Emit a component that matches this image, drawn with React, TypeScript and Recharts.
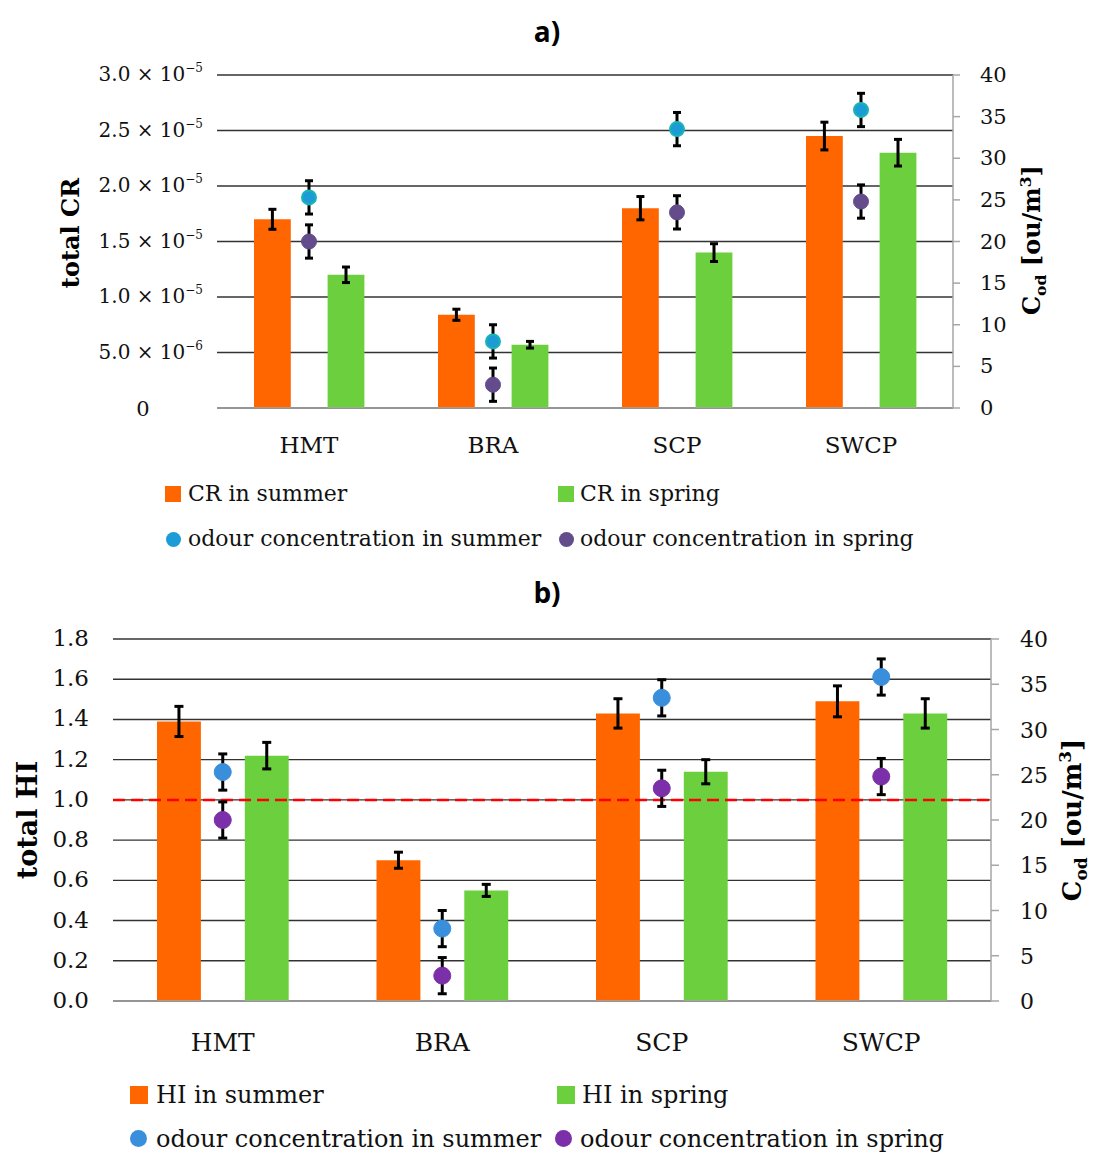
import React from 'react';
import {
  ComposedChart,
  Bar,
  Line,
  XAxis,
  YAxis,
  CartesianGrid,
  ErrorBar,
  ReferenceLine,
} from 'recharts';

// ---------- data ----------
const categories = ['HMT', 'BRA', 'SCP', 'SWCP'];

const crSummer = [1.7e-5, 8.4e-6, 1.8e-5, 2.45e-5];
const crSummerErr = [9e-7, 5e-7, 1.05e-6, 1.25e-6];
const crSpring = [1.2e-5, 5.7e-6, 1.4e-5, 2.3e-5];
const crSpringErr = [7e-7, 3e-7, 8e-7, 1.2e-6];

const hiSummer = [1.39, 0.7, 1.43, 1.49];
const hiSummerErr = [0.075, 0.04, 0.073, 0.077];
const hiSpring = [1.22, 0.55, 1.14, 1.43];
const hiSpringErr = [0.066, 0.03, 0.06, 0.073];

const odourSummer = [25.3, 8.0, 33.5, 35.8];
const odourSummerErr = [2.0, 2.0, 2.0, 2.0];
const odourSpring = [20.0, 2.8, 23.5, 24.8];
const odourSpringErr = [2.0, 2.0, 2.0, 2.0];

const crTicks = [0, 5e-6, 1e-5, 1.5e-5, 2e-5, 2.5e-5, 3e-5];
const crTickMantissas = ['0', '5.0', '1.0', '1.5', '2.0', '2.5', '3.0'];
const crTickExponents = ['', '−6', '−5', '−5', '−5', '−5', '−5'];

const hiTicks = [0, 0.2, 0.4, 0.6, 0.8, 1.0, 1.2, 1.4, 1.6, 1.8];
const hiTickLabels = ['0.0', '0.2', '0.4', '0.6', '0.8', '1.0', '1.2', '1.4', '1.6', '1.8'];

const odourTicks = [0, 5, 10, 15, 20, 25, 30, 35, 40];
const hiThreshold = 1.0;

// ---------- built tables ----------
const dataA = categories.map((name, i) => ({
  name,
  crSummer: crSummer[i],
  crSummerErr: crSummerErr[i],
  crSpring: crSpring[i],
  crSpringErr: crSpringErr[i],
  odourSummer: odourSummer[i],
  odourSummerErr: odourSummerErr[i],
  odourSpring: odourSpring[i],
  odourSpringErr: odourSpringErr[i],
}));

const dataB = categories.map((name, i) => ({
  name,
  hiSummer: hiSummer[i],
  hiSummerErr: hiSummerErr[i],
  hiSpring: hiSpring[i],
  hiSpringErr: hiSpringErr[i],
  odourSummer: odourSummer[i],
  odourSummerErr: odourSummerErr[i],
  odourSpring: odourSpring[i],
  odourSpringErr: odourSpringErr[i],
}));

// ---------- styles ----------
const SERIF = '"DejaVu Serif", "Liberation Serif", serif';
const SANS = '"Open Sans", "DejaVu Sans", sans-serif';
const ORANGE = '#FF6600';
const GREEN = '#6CCF3D';
const GRID = '#333333';
const AXIS_GRAY = '#a6a6a6';
const TEXT = '#111';

const A_COLORS = { summer: '#1C9CD6', summerStroke: '#1AB4B4', spring: '#634B8C' };
const B_COLORS = { summer: '#3A8FDD', spring: '#7B2FA8' };

const W = 1094;
// chart a geometry
const A_LEFT = 217;
const A_RIGHT_W = 141;
const A_BAND = (W - A_LEFT - A_RIGHT_W) / categories.length;
// chart b geometry
const B_LEFT = 113;
const B_RIGHT_W = 103;
const B_BAND = (W - B_LEFT - B_RIGHT_W) / categories.length;

const findIdx = (arr: number[], v: number) =>
  arr.findIndex((t) => Math.abs(t - v) < 1e-12);

// ---------- tick renderers ----------
const CRTick = (props: any) => {
  const { x, y, payload } = props;
  const i = findIdx(crTicks, payload.value);
  if (i < 0) return null;
  if (crTickExponents[i] === '') {
    return (
      <text x={x - 60} y={y} dy={8} textAnchor="middle" fontFamily={SERIF} fontSize={21} fill={TEXT}>
        {crTickMantissas[i]}
      </text>
    );
  }
  return (
    <text x={x} y={y} dy={6} textAnchor="end" fontFamily={SERIF} fontSize={20} fill={TEXT}>
      <tspan>{crTickMantissas[i] + ' × 10'}</tspan>
      <tspan dy={-9} fontSize={12}>
        {crTickExponents[i]}
      </tspan>
    </text>
  );
};

const OdourTickA = (props: any) => {
  const { x, y, payload } = props;
  return (
    <text x={x} y={y} dy={7} textAnchor="start" fontFamily={SERIF} fontSize={21} fill={TEXT}>
      {payload.value}
    </text>
  );
};

const OdourTickB = (props: any) => {
  const { x, y, payload } = props;
  return (
    <text x={x} y={y} dy={8} textAnchor="start" fontFamily={SERIF} fontSize={22} fill={TEXT}>
      {payload.value}
    </text>
  );
};

const HITick = (props: any) => {
  const { x, y, payload } = props;
  const i = findIdx(hiTicks, payload.value);
  if (i < 0) return null;
  return (
    <text x={x} y={y} dy={7} textAnchor="end" fontFamily={SERIF} fontSize={23} fill={TEXT}>
      {hiTickLabels[i]}
    </text>
  );
};

const CatTickA = (props: any) => {
  const { x, y, payload } = props;
  return (
    <text x={x} y={y + 45} textAnchor="middle" fontFamily={SERIF} fontSize={23} fill={TEXT}>
      {payload.value}
    </text>
  );
};

const CatTickB = (props: any) => {
  const { x, y, payload } = props;
  return (
    <text x={x} y={y + 50} textAnchor="middle" fontFamily={SERIF} fontSize={25} fill={TEXT}>
      {payload.value}
    </text>
  );
};

// ---------- html helpers ----------
const RotLabel = ({ cx, cy, size, children }: any) => (
  <div
    style={{
      position: 'absolute',
      left: cx,
      top: cy,
      transform: 'translate(-50%, -50%) rotate(-90deg)',
      whiteSpace: 'nowrap',
      fontFamily: SERIF,
      fontWeight: 700,
      fontSize: size,
      lineHeight: 1,
      color: '#000',
    }}
  >
    {children}
  </div>
);

const Title = ({ cx, cy, text }: any) => (
  <div
    style={{
      position: 'absolute',
      left: cx,
      top: cy,
      transform: 'translate(-50%, -50%)',
      fontFamily: SANS,
      fontWeight: 700,
      fontSize: 28,
      lineHeight: 1,
      color: '#000',
    }}
  >
    {text}
  </div>
);

const LegendItem = ({ marker, color, mx, my, msize, tx, baseline, fontSize, text }: any) => (
  <>
    <div
      style={{
        position: 'absolute',
        left: mx - msize / 2,
        top: my - msize / 2,
        width: msize,
        height: msize,
        background: color,
        borderRadius: marker === 'circle' ? '50%' : 0,
      }}
    />
    <div
      style={{
        position: 'absolute',
        left: tx,
        top: baseline - 0.846 * fontSize,
        fontFamily: SERIF,
        fontSize,
        lineHeight: `${fontSize}px`,
        whiteSpace: 'nowrap',
        color: TEXT,
      }}
    >
      {text}
    </div>
  </>
);

export default function App() {
  return (
    <div
      style={{
        position: 'absolute',
        left: 0,
        top: 0,
        width: W,
        height: 1155,
        background: '#fff',
        overflow: 'hidden',
      }}
    >
      {/* ---------------- chart a ---------------- */}
      <Title cx={547} cy={31} text="a)" />
      <div style={{ position: 'absolute', left: 0, top: 0 }}>
        <ComposedChart
          width={W}
          height={470}
          data={dataA}
          margin={{ top: 75, right: 0, left: 0, bottom: 12 }}
          barSize={A_BAND * 0.2}
          barGap={A_BAND * 0.2}
        >
          <CartesianGrid yAxisId="left" vertical={false} stroke={GRID} strokeWidth={1.4} />
          <XAxis
            dataKey="name"
            height={50}
            tickLine={false}
            tickSize={0}
            tickMargin={0}
            axisLine={{ stroke: AXIS_GRAY, strokeWidth: 1.5 }}
            tick={<CatTickA />}
            interval={0}
          />
          <YAxis
            yAxisId="left"
            width={A_LEFT}
            domain={[0, 3e-5]}
            ticks={crTicks}
            interval={0}
            axisLine={false}
            tickLine={false}
            tickSize={14}
            tickMargin={0}
            tick={<CRTick />}
          />
          <YAxis
            yAxisId="right"
            orientation="right"
            width={A_RIGHT_W}
            domain={[0, 40]}
            ticks={odourTicks}
            interval={0}
            axisLine={{ stroke: AXIS_GRAY, strokeWidth: 1.5 }}
            tickLine={{ stroke: AXIS_GRAY, strokeWidth: 1.5 }}
            tickSize={7}
            tickMargin={20}
            tick={<OdourTickA />}
          />
          <Bar yAxisId="left" dataKey="crSummer" fill={ORANGE} isAnimationActive={false}>
            <ErrorBar dataKey="crSummerErr" width={4} strokeWidth={3} stroke="#000" direction="y" />
          </Bar>
          <Bar yAxisId="left" dataKey="crSpring" fill={GREEN} isAnimationActive={false}>
            <ErrorBar dataKey="crSpringErr" width={4} strokeWidth={3} stroke="#000" direction="y" />
          </Bar>
          <Line
            yAxisId="right"
            dataKey="odourSummer"
            stroke="none"
            isAnimationActive={false}
            dot={{ r: 7, fill: A_COLORS.summer, stroke: A_COLORS.summerStroke, strokeWidth: 2 }}
            activeDot={false}
          >
            <ErrorBar dataKey="odourSummerErr" width={4} strokeWidth={3} stroke="#000" direction="y" />
          </Line>
          <Line
            yAxisId="right"
            dataKey="odourSpring"
            stroke="none"
            isAnimationActive={false}
            dot={{ r: 7.5, fill: A_COLORS.spring, stroke: A_COLORS.spring, strokeWidth: 1 }}
            activeDot={false}
          >
            <ErrorBar dataKey="odourSpringErr" width={4} strokeWidth={3} stroke="#000" direction="y" />
          </Line>
        </ComposedChart>
      </div>
      <RotLabel cx={71} cy={233} size={24}>
        total CR
      </RotLabel>
      <RotLabel cx={1033} cy={240} size={24}>
        <span>
          C<sub style={{ fontSize: '0.65em' }}>od</sub> [ou/m<sup style={{ fontSize: '0.65em' }}>3</sup>]
        </span>
      </RotLabel>

      <LegendItem marker="square" color={ORANGE} mx={173} my={494} msize={16} tx={188} baseline={502} fontSize={22} text="CR in summer" />
      <LegendItem marker="square" color={GREEN} mx={566} my={494} msize={16} tx={580} baseline={502} fontSize={22} text="CR in spring" />
      <LegendItem marker="circle" color={A_COLORS.summer} mx={173} my={539} msize={15} tx={188} baseline={547} fontSize={22} text="odour concentration in summer" />
      <LegendItem marker="circle" color={A_COLORS.spring} mx={566} my={539} msize={15} tx={580} baseline={547} fontSize={22} text="odour concentration in spring" />

      {/* ---------------- chart b ---------------- */}
      <Title cx={547} cy={592} text="b)" />
      <div style={{ position: 'absolute', left: 0, top: 560 }}>
        <ComposedChart
          width={W}
          height={500}
          data={dataB}
          margin={{ top: 79, right: 0, left: 0, bottom: 9 }}
          barSize={B_BAND * 0.2}
          barGap={B_BAND * 0.2}
        >
          <CartesianGrid yAxisId="left" vertical={false} stroke={GRID} strokeWidth={1.4} />
          <XAxis
            dataKey="name"
            height={50}
            tickLine={false}
            tickSize={0}
            tickMargin={0}
            axisLine={{ stroke: AXIS_GRAY, strokeWidth: 1.5 }}
            tick={<CatTickB />}
            interval={0}
          />
          <YAxis
            yAxisId="left"
            width={B_LEFT}
            domain={[0, 1.8]}
            ticks={hiTicks}
            interval={0}
            axisLine={false}
            tickLine={false}
            tickSize={24}
            tickMargin={0}
            tick={<HITick />}
          />
          <YAxis
            yAxisId="right"
            orientation="right"
            width={B_RIGHT_W}
            domain={[0, 40]}
            ticks={odourTicks}
            interval={0}
            axisLine={{ stroke: AXIS_GRAY, strokeWidth: 1.5 }}
            tickLine={{ stroke: AXIS_GRAY, strokeWidth: 1.5 }}
            tickSize={8}
            tickMargin={21}
            tick={<OdourTickB />}
          />
          <Bar yAxisId="left" dataKey="hiSummer" fill={ORANGE} isAnimationActive={false}>
            <ErrorBar dataKey="hiSummerErr" width={4.5} strokeWidth={3} stroke="#000" direction="y" />
          </Bar>
          <Bar yAxisId="left" dataKey="hiSpring" fill={GREEN} isAnimationActive={false}>
            <ErrorBar dataKey="hiSpringErr" width={4.5} strokeWidth={3} stroke="#000" direction="y" />
          </Bar>
          <ReferenceLine
            yAxisId="left"
            y={hiThreshold}
            stroke="#FF0000"
            strokeWidth={2.5}
            strokeDasharray="12 6"
          />
          <Line
            yAxisId="right"
            dataKey="odourSummer"
            stroke="none"
            isAnimationActive={false}
            dot={{ r: 8.5, fill: B_COLORS.summer, stroke: B_COLORS.summer, strokeWidth: 1 }}
            activeDot={false}
          >
            <ErrorBar dataKey="odourSummerErr" width={4.5} strokeWidth={3} stroke="#000" direction="y" />
          </Line>
          <Line
            yAxisId="right"
            dataKey="odourSpring"
            stroke="none"
            isAnimationActive={false}
            dot={{ r: 8.5, fill: B_COLORS.spring, stroke: B_COLORS.spring, strokeWidth: 1 }}
            activeDot={false}
          >
            <ErrorBar dataKey="odourSpringErr" width={4.5} strokeWidth={3} stroke="#000" direction="y" />
          </Line>
        </ComposedChart>
      </div>
      <RotLabel cx={27} cy={820} size={27}>
        total HI
      </RotLabel>
      <RotLabel cx={1073} cy={820} size={26}>
        <span>
          C<sub style={{ fontSize: '0.65em' }}>od</sub> [ou/m<sup style={{ fontSize: '0.65em' }}>3</sup>]
        </span>
      </RotLabel>

      <LegendItem marker="square" color={ORANGE} mx={139} my={1095} msize={18} tx={156} baseline={1103} fontSize={24} text="HI in summer" />
      <LegendItem marker="square" color={GREEN} mx={566} my={1095} msize={18} tx={582} baseline={1103} fontSize={24} text="HI in spring" />
      <LegendItem marker="circle" color={B_COLORS.summer} mx={138} my={1138} msize={17} tx={156} baseline={1147} fontSize={24} text="odour concentration in summer" />
      <LegendItem marker="circle" color={B_COLORS.spring} mx={563} my={1138} msize={17} tx={580} baseline={1147} fontSize={24} text="odour concentration in spring" />
    </div>
  );
}
